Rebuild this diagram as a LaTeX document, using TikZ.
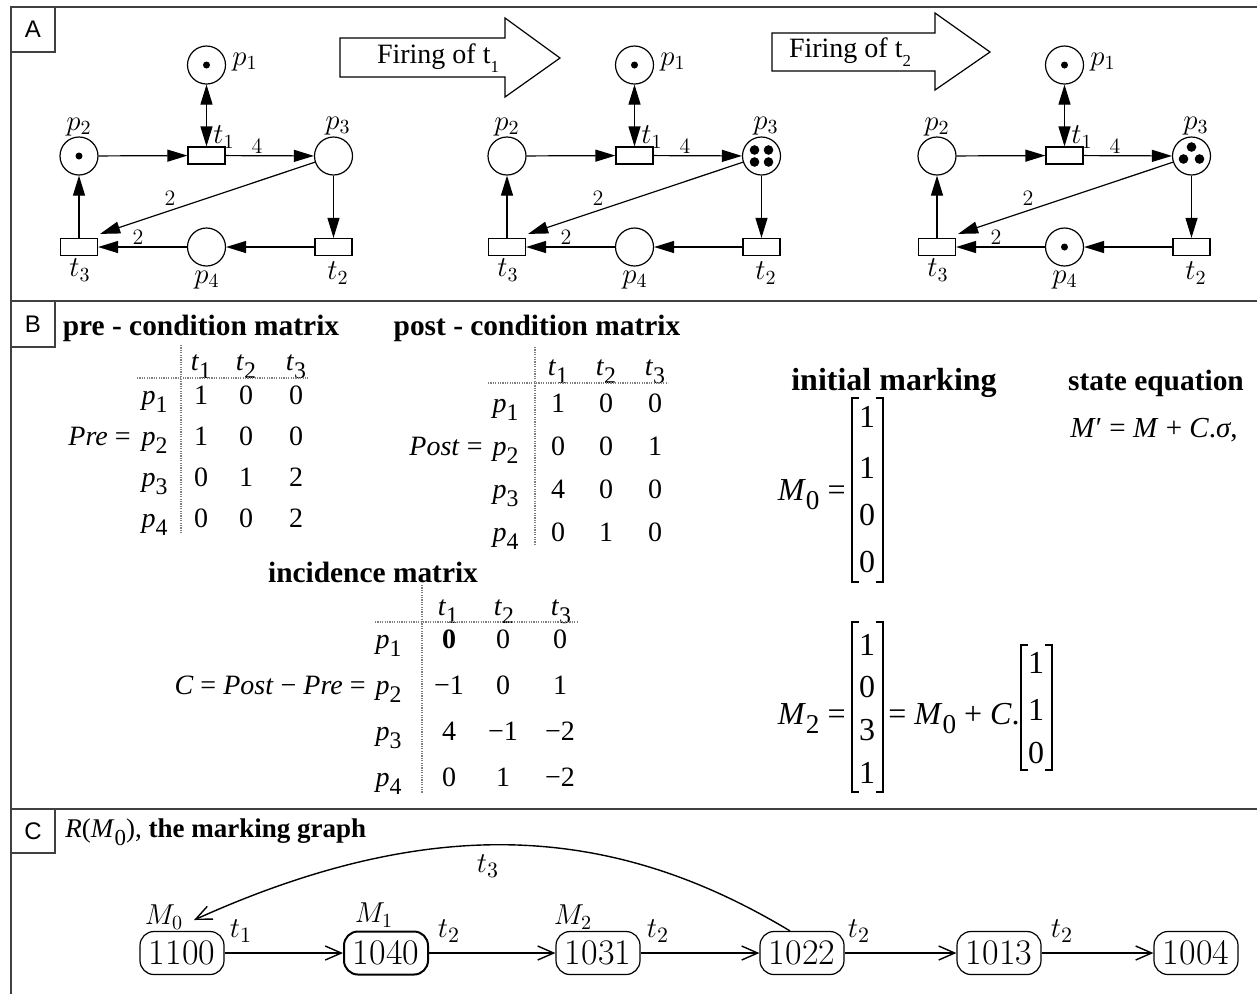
\documentclass[tikz,border=0pt]{standalone}
\usepackage{fontspec}
\usepackage{graphicx}
\usetikzlibrary{arrows.meta,calc}
\newfontfamily\tms{Liberation Serif}
\newfontfamily\arl{Liberation Sans}
\newcommand\isub[2]{\textit{#1}\raisebox{-0.3em}{\scalebox{0.85}{#2}}}
\tikzset{
  frameline/.style={draw=black!75, line width=1pt},
  panellbl/.style={font=\arl\fontsize{12}{12}\selectfont, inner sep=0},
  place/.style={circle, draw, line width=0.6pt, minimum size=19pt, inner sep=0},
  trans/.style={rectangle, draw, line width=0.6pt, minimum width=18.5pt, minimum height=8.5pt, inner sep=0},
  parc/.style={line width=0.6pt, -{Triangle[length=10pt,width=6pt]}},
  pbiarc/.style={line width=0.6pt, {Triangle[length=10pt,width=6pt]}-{Triangle[length=10pt,width=6pt]}},
  netlbl/.style={font=\fontsize{14}{14}\selectfont, inner sep=0},
  weight/.style={font=\fontsize{11}{11}\selectfont, inner sep=0},
  token/.style={circle, fill, inner sep=0, minimum size=3.5pt},
  bigtoken/.style={circle, fill, inner sep=0, minimum size=4.8pt},
  firearrow/.style={draw, line width=0.6pt, fill=white},
  firetxt/.style={font=\tms\fontsize{14}{14}\selectfont, inner sep=0},
  ttl/.style={font=\tms\bfseries\fontsize{14.7}{15}\selectfont, inner sep=0},
  ent/.style={font=\tms\fontsize{14}{14}\selectfont, inner sep=0, anchor=base},
  big/.style={font=\tms\fontsize{16}{16}\selectfont, inner sep=0, anchor=base},
  tabline/.style={draw=gray, line width=0.6pt, dash pattern=on 0.6pt off 0.6pt},
  brk/.style={line width=0.8pt},
  mnode/.style={draw, rounded corners=7pt, minimum width=42pt, minimum height=21.5pt, inner sep=0, line width=0.6pt, font=\fontsize{18}{18}\selectfont},
  marr/.style={line width=0.7pt, -{Straight Barb[length=8pt,width=7pt]}},
  mlbl/.style={font=\fontsize{14.5}{14.5}\selectfont, inner sep=0},
  tlbl/.style={font=\fontsize{15}{15}\selectfont, inner sep=0},
}
\newcommand\pnet[2]{%
\begin{scope}[xshift=#2]
\node[place] (#1p1) at (206.5,65) {};
\node[place] (#1p2) at (79,156) {};
\node[place] (#1p3) at (333.5,156) {};
\node[place] (#1p4) at (206.5,247) {};
\node[trans] (#1t1) at (206.5,155.5) {};
\node[trans] (#1t2) at (333.5,247) {};
\node[trans] (#1t3) at (79,247) {};
\node[netlbl, anchor=west] (#1lp1) at (232,62) {$p_1$};
\node[netlbl] (#1lp2) at (79,127) {$p_2$};
\node[netlbl] (#1lp3) at (338,126) {$p_3$};
\node[netlbl] (#1lp4) at (207,280) {$p_4$};
\node[netlbl] (#1lt1) at (224,137) {$t_1$};
\node[netlbl] (#1lt2) at (338,273) {$t_2$};
\node[netlbl] (#1lt3) at (80,270) {$t_3$};
\node[weight] (#1wa) at (257,146) {4};
\node[weight] (#1wb) at (170,198) {2};
\node[weight] (#1wc) at (138,237) {2};
\draw[pbiarc] (#1p1) -- (#1t1);
\draw[parc] (#1p2) -- (#1t1);
\draw[parc] (#1t1) -- (#1p3);
\draw[parc] (#1p3) -- (#1t2);
\draw[parc] (#1t2) -- (#1p4);
\draw[parc] (#1p4) -- (#1t3);
\draw[parc] (#1t3) -- (#1p2);
\coordinate (#1ne) at ($(#1t3.north east)+(2,-4)$);
\draw[parc] (#1p3) -- (#1ne);
\end{scope}}
\begin{document}
\begin{tikzpicture}[x=0.5pt,y=-0.5pt]
\useasboundingbox (0,0) rectangle (1257,993);
% frame
\draw[frameline] (1257,7) -- (11,7) -- (11,995);
\draw[frameline] (11,301) -- (1257,301);
\draw[frameline] (11,809) -- (1257,809);
\draw[frameline] (11,52) -- (55,52) -- (55,7);
\draw[frameline] (11,347) -- (55,347) -- (55,301);
\draw[frameline] (11,853) -- (55,853) -- (55,809);
\node[panellbl] (labA) at (33,29) {A};
\node[panellbl] (labB) at (33,324) {B};
\node[panellbl] (labC) at (33,831) {C};
% panel A
\pnet{a}{0pt}
\pnet{b}{214pt}
\pnet{c}{429pt}
\node[token] (atk1) at (ap1) {};
\node[token] (atk2) at (ap2) {};
\node[token] (btk1) at (bp1) {};
\node[bigtoken] (btk3a) at ($(bp3)+(-7,-6)$) {};
\node[bigtoken] (btk3b) at ($(bp3)+(7,-6)$) {};
\node[bigtoken] (btk3c) at ($(bp3)+(-7,6)$) {};
\node[bigtoken] (btk3d) at ($(bp3)+(7,6)$) {};
\node[token] (ctk1) at (cp1) {};
\node[bigtoken] (ctk3a) at ($(cp3)+(0,-9)$) {};
\node[bigtoken] (ctk3b) at ($(cp3)+(-8,3)$) {};
\node[bigtoken] (ctk3c) at ($(cp3)+(8,3)$) {};
\node[token] (ctk4) at (cp4) {};
\draw[firearrow] (340,38) -- (505,38) -- (505,18) -- (560,58) -- (505,97) -- (505,77) -- (340,77) -- cycle;
\node[firetxt] (fire1) at (438,58) {Firing of t\raisebox{-0.3em}{\scalebox{0.6}{1}}};
\draw[firearrow] (772,33) -- (935,33) -- (935,13) -- (990,52) -- (935,90) -- (935,71) -- (772,71) -- cycle;
\node[firetxt] (fire2) at (850,52) {Firing of t\raisebox{-0.3em}{\scalebox{0.6}{2}}};
% panel B: pre
\node[ttl] (pretitle) at (201,328) {pre - condition matrix};
\node[ent] (preh1) at (201,370) {\isub{t}{1}};
\node[ent] (preh2) at (246,370) {\isub{t}{2}};
\node[ent] (preh3) at (296,370) {\isub{t}{3}};
\foreach \a/\b/\c [count=\r] in {1/0/0,1/0/0,0/1/2,0/0/2}{
  \node[ent] (pre\r a) at (201,{404.5+(\r-1)*41}) {\a};
  \node[ent] (pre\r b) at (246,{404.5+(\r-1)*41}) {\b};
  \node[ent] (pre\r c) at (296,{404.5+(\r-1)*41}) {\c};
  \node[ent, anchor=base east] (prep\r) at (168,{404.5+(\r-1)*41}) {\isub{p}{\r}};
}
\node[ent, anchor=base east] (preeq) at (131,445.5) {\textit{Pre} =};
\draw[tabline] (181,345) -- (181,533);
\draw[tabline] (137,378) -- (308,378);
% post
\node[ttl] (posttitle) at (537,328) {post - condition matrix};
\node[ent] (posth1) at (558,375) {\isub{t}{1}};
\node[ent] (posth2) at (606,375) {\isub{t}{2}};
\node[ent] (posth3) at (655,375) {\isub{t}{3}};
\foreach \a/\b/\c [count=\r] in {1/0/0,0/0/1,4/0/0,0/1/0}{
  \node[ent] (post\r a) at (558,{412.5+(\r-1)*43}) {\a};
  \node[ent] (post\r b) at (606,{412.5+(\r-1)*43}) {\b};
  \node[ent] (post\r c) at (655,{412.5+(\r-1)*43}) {\c};
  \node[ent, anchor=base east] (postp\r) at (519,{412.5+(\r-1)*43}) {\isub{p}{\r}};
}
\node[ent, anchor=base east] (posteq) at (483,455.5) {\textit{Post} =};
\draw[tabline] (535,347) -- (535,545);
\draw[tabline] (488,383) -- (668,383);
% incidence
\node[ttl] (inctitle) at (373,572) {incidence matrix};
\node[ent] (inch1) at (448,615) {\isub{t}{1}};
\node[ent] (inch2) at (504,615) {\isub{t}{2}};
\node[ent] (inch3) at (561,615) {\isub{t}{3}};
\foreach \a/\b/\c [count=\r] in {{\bfseries 0}/0/0,−1/0/1,4/−1/−2,0/1/−2}{
  \node[ent] (inc\r a) at (449,{648+(\r-1)*46}) {\a};
  \node[ent] (inc\r b) at (503,{648+(\r-1)*46}) {\b};
  \node[ent] (inc\r c) at (560,{648+(\r-1)*46}) {\c};
  \node[ent, anchor=base east] (incp\r) at (402,{648+(\r-1)*46}) {\isub{p}{\r}};
}
\node[ent, anchor=base east] (inceq) at (366,694) {\textit{C} = \textit{Post} − \textit{Pre} =};
\draw[tabline] (422,585) -- (422,793);
\draw[tabline] (375,622) -- (577,622);
% initial marking
\node[ttl, font=\tms\bfseries\fontsize{16}{16}\selectfont] (imtitle) at (894,383) {initial marking};
\node[ttl] (setitle) at (1156,383) {state equation};
\node[ent, anchor=base west, font=\tms\fontsize{14.5}{15}\selectfont] (stateeq) at (1070,437) {\textit{M}′ = \textit{M} + \textit{C}.\textit{σ},};
\node[big, anchor=base east] (m0eq) at (846,500) {\isub{M}{0} =};
\draw[brk] (859,398) -- (852,398) -- (852,582) -- (859,582);
\draw[brk] (876,398) -- (883,398) -- (883,582) -- (876,582);
\foreach \v/\yy [count=\i] in {1/427.5,1/478.5,0/525.5,0/572.5}{
  \node[big] (m0v\i) at (867,\yy) {\v};
}
% M2
\node[big, anchor=base east] (m2eq) at (846,724) {\isub{M}{2} =};
\draw[brk] (859,622) -- (852,622) -- (852,792) -- (859,792);
\draw[brk] (876,622) -- (883,622) -- (883,792) -- (876,792);
\foreach \v/\yy [count=\i] in {1/655,0/697,3/740,1/783}{
  \node[big] (m2v\i) at (867,\yy) {\v};
}
\node[big, anchor=base west] (m2rhs) at (888,724) {= \isub{M}{0} + \textit{C}.};
\draw[brk] (1028,645) -- (1021,645) -- (1021,770) -- (1028,770);
\draw[brk] (1045,645) -- (1052,645) -- (1052,770) -- (1045,770);
\foreach \v/\yy [count=\i] in {1/673.5,1/720.5,0/763.5}{
  \node[big] (sv\i) at (1036,\yy) {\v};
}
% panel C
\node[anchor=west, inner sep=0, font=\tms\fontsize{13.5}{14}\selectfont] (ctitle) at (65,832) {\isub{R}{}(\isub{M}{0}), \textbf{the marking graph}};
\node[mnode] (m1) at (182,953) {1100};
\node[mnode, line width=1pt] (m2) at (386,953) {1040};
\node[mnode] (m3) at (598,953) {1031};
\node[mnode] (m4) at (802,953) {1022};
\node[mnode] (m5) at (999,953) {1013};
\node[mnode] (m6) at (1196,953) {1004};
\draw[marr] (m1) -- (m2);
\draw[marr] (m2) -- (m3);
\draw[marr] (m3) -- (m4);
\draw[marr] (m4) -- (m5);
\draw[marr] (m5) -- (m6);
\coordinate (m0tip) at (194,920);
\draw[marr] ($(m4.north)+(-12,0)$) .. controls (619,828) and (440,809) .. (m0tip);
\node[mlbl] (lm0) at (164,917) {$M_0$};
\node[mlbl] (lm1) at (374,915) {$M_1$};
\node[mlbl] (lm2) at (573,917) {$M_2$};
\node[tlbl] (lt1) at (241,931) {$t_1$};
\node[tlbl] (lt2a) at (449,931) {$t_2$};
\node[tlbl] (lt2b) at (658,931) {$t_2$};
\node[tlbl] (lt2c) at (859,931) {$t_2$};
\node[tlbl] (lt2d) at (1062,931) {$t_2$};
\node[tlbl] (lt3) at (488,866) {$t_3$};
\end{tikzpicture}
\end{document}
